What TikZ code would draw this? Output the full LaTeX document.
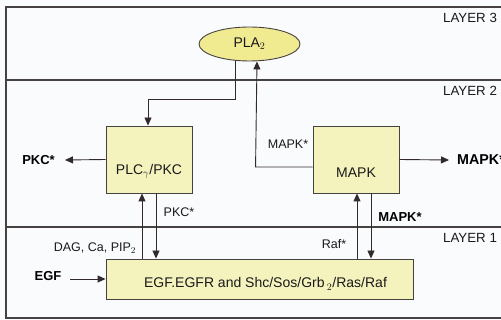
\documentclass[tikz,border=0pt]{standalone}
\usepackage{fontspec}
\setmainfont{Liberation Sans}
\usetikzlibrary{arrows.meta,shapes.geometric,calc}
\definecolor{bgc}{RGB}{250,251,253}
\definecolor{framec}{RGB}{70,66,66}
\definecolor{boxfill}{RGB}{244,243,190}
\definecolor{ellfill}{RGB}{240,234,145}
\definecolor{linec}{RGB}{50,42,42}
\tikzset{
  frameline/.style={draw=framec, line width=1.2pt},
  procbox/.style={draw=framec, fill=boxfill, line width=0.9pt, inner sep=0pt},
  conn/.style={draw=linec, line width=0.9pt},
  arr/.style={conn, -{Triangle[length=8pt,width=7pt]}},
  boxtext/.style={font=\fontsize{14}{16}\selectfont, text=black!90},
  lbl/.style={font=\fontsize{12.5}{14}\selectfont, text=black!90, inner sep=0pt},
  boldlbl/.style={font=\fontsize{13}{15}\selectfont\bfseries, text=black, inner sep=0pt},
  layerlbl/.style={font=\fontsize{13.3}{15}\selectfont, text=black!90, inner sep=0pt}
}
\begin{document}
\begin{tikzpicture}[x=1pt,y=-1pt]
\useasboundingbox (0,0) rectangle (501,320);
\clip (0,0) rectangle (501,320);
\fill[bgc] (0,0) rectangle (501,320);
% frame and layer separators
\draw[frameline] (6,7) rectangle (530,318);
\draw[frameline] (6,80) -- (530,80);
\draw[frameline] (6,227) -- (530,227);
\node[layerlbl, anchor=west] (l3) at (443,18) {LAYER 3};
\node[layerlbl, anchor=west] (l2) at (443,91) {LAYER 2};
\node[layerlbl, anchor=west] (l1) at (443,238) {LAYER 1};
% nodes
\node[ellipse, draw=framec, fill=ellfill, line width=0.9pt, minimum width=101pt, minimum height=34pt, inner sep=0pt, boxtext] (pla) at (249.5,44) {PLA$_2$};
\node[procbox, minimum width=86pt, minimum height=67pt,
      label={[boxtext, yshift=-12pt]center:PLC$_\gamma$/PKC}] (plc) at (149,159.5) {};
\node[procbox, minimum width=86pt, minimum height=67pt,
      label={[boxtext, yshift=-13pt]center:MAPK}] (mapk) at (356,159.5) {};
\node[procbox, minimum width=307pt, minimum height=40pt,
      label={[boxtext, xshift=6pt, yshift=-5pt]center:EGF.EGFR and Shc/Sos/Grb\,$_2$/Ras/Raf}] (egfr) at (259.5,279) {};
% outside labels
\node[boldlbl, anchor=east] (pkcout) at (55,160) {PKC*};
\node[boldlbl, anchor=west, font=\fontsize{14.3}{16}\selectfont\bfseries] (mapkout) at (457,160) {MAPK*};
\node[boldlbl] (egf) at (48,276) {EGF};
\node[lbl] (mapklbl) at (288,144) {MAPK*};
\node[lbl] (pkclbl) at (179,212) {PKC*};
\node[boldlbl] (mapklbl2) at (400,217) {MAPK*};
\node[lbl] (raflbl) at (334,244) {Raf*};
\node[lbl] (daglbl) at (95,248) {DAG, Ca, PIP$_2$};
\coordinate (pkctip) at (65,160);
\coordinate (mapktip) at (449,160);
\coordinate (egfstart) at (70,279);
% connectors
\draw[arr] (pla.south -| 235,0) -- (235,99) -- (148,99) -- (plc.north -| 148,0);
\draw[arr] ($(mapk.west)+(0,7.5)$) -- ++(-57,0) -- (pla.south -| 257,0);
\draw[arr] (plc.west) -- (pkctip);
\draw[arr] (mapk.east) -- (mapktip);
\draw[arr] (egfstart) -- (egfr.west);
\draw[arr] (egfr.north -| 142,0) -- (plc.south -| 142,0);
\draw[arr] (plc.south -| 156,0) -- (egfr.north -| 156,0);
\draw[arr] (egfr.north -| 357,0) -- (mapk.south -| 357,0);
\draw[arr] (mapk.south -| 371,0) -- (egfr.north -| 371,0);
\end{tikzpicture}
\end{document}
